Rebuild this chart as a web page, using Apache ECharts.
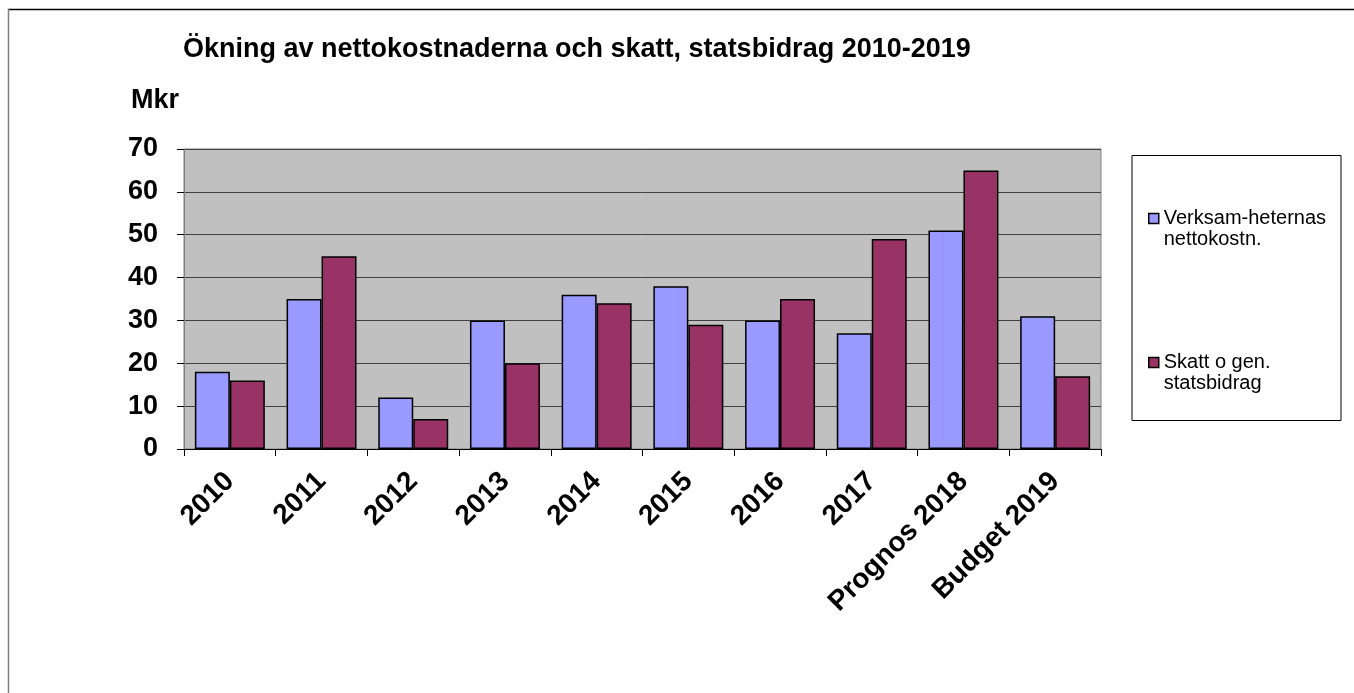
<!DOCTYPE html>
<html>
<head>
<meta charset="utf-8">
<script src="https://cdn.jsdelivr.net/npm/echarts@6/dist/echarts.min.js"></script>
<style>
html,body{margin:0;padding:0;background:#fff;}
#chart{width:1354px;height:693px;}
</style>
</head>
<body>
<div id="chart"></div>
<script>
const chartTitle = 'Ökning av nettokostnaderna och skatt, statsbidrag 2010-2019';
const unitLabel = 'Mkr';
const categories = ['2010','2011','2012','2013','2014','2015','2016','2017','Prognos 2018','Budget 2019'];
const seriesNames = ['Verksam-heternas\nnettokostn.', 'Skatt o gen.\nstatsbidrag'];
const nettokostnader = [18, 35, 12, 30, 36, 38, 30, 27, 51, 31];
const skattStatsbidrag = [16, 45, 7, 20, 34, 29, 35, 49, 65, 17];
const yTicks = [0, 10, 20, 30, 40, 50, 60, 70];

const font = 'Liberation Sans, Arial, sans-serif';
const chart = echarts.init(document.getElementById('chart'));
chart.setOption({
  animation: false,
  backgroundColor: '#ffffff',
  title: [
    { text: chartTitle, left: 183, top: 36, padding: 0,
      textStyle: { fontFamily: font, fontSize: 27, fontWeight: 'bold', color: '#000' } },
    { text: unitLabel, left: 131, top: 87, padding: 0,
      textStyle: { fontFamily: font, fontSize: 27, fontWeight: 'bold', color: '#000' } }
  ],
  graphic: [
    { type: 'line', shape: { x1: 8, y1: 9.5, x2: 1354, y2: 9.5 }, style: { stroke: '#000', lineWidth: 1.5 } },
    { type: 'line', shape: { x1: 8.5, y1: 9, x2: 8.5, y2: 693 }, style: { stroke: '#808080', lineWidth: 1.5 } },
    { type: 'rect', shape: { x: 1132, y: 155.5, width: 209, height: 265 }, style: { fill: '#fff', stroke: '#000', lineWidth: 1 }, z: -1 }
  ],
  legend: {
    orient: 'vertical',
    left: 1143,
    top: 182,
    itemGap: 81,
    icon: 'rect',
    itemWidth: 10,
    itemHeight: 10,
    itemStyle: { borderColor: '#000', borderWidth: 1.5 },
    formatter: name => ' \n' + name,
    textStyle: { fontFamily: font, fontSize: 20, lineHeight: 21, color: '#000' },
    data: seriesNames
  },
  grid: {
    left: 184, top: 149, right: 253, bottom: 244,
    show: true, backgroundColor: '#C0C0C0', borderColor: '#808080', borderWidth: 1
  },
  xAxis: {
    type: 'category',
    data: categories,
    axisLine: { lineStyle: { color: '#000', width: 1 } },
    axisTick: { show: true, length: 7, lineStyle: { color: '#000' } },
    axisLabel: { rotate: 45, margin: 28, interval: 0, fontFamily: font, fontSize: 28, fontWeight: 'bold', color: '#000' }
  },
  yAxis: {
    type: 'value',
    min: 0, max: 70, interval: 10,
    axisLine: { show: true, lineStyle: { color: '#808080' } },
    axisTick: { show: true, length: 7, lineStyle: { color: '#000' } },
    splitLine: { lineStyle: { color: '#404040', width: 1 } },
    axisLabel: { margin: 26, fontFamily: font, fontSize: 27, fontWeight: 'bold', color: '#000',
      formatter: v => yTicks.includes(v) ? String(v) : '' }
  },
  series: [
    { name: seriesNames[0], type: 'bar', data: nettokostnader, barGap: '0%', barCategoryGap: '23.7%',
      itemStyle: { color: '#9999FF', borderColor: '#000', borderWidth: 1.5 } },
    { name: seriesNames[1], type: 'bar', data: skattStatsbidrag, barGap: '0%', barCategoryGap: '23.7%',
      itemStyle: { color: '#993366', borderColor: '#000', borderWidth: 1.5 } }
  ]
});
</script>
</body>
</html>
